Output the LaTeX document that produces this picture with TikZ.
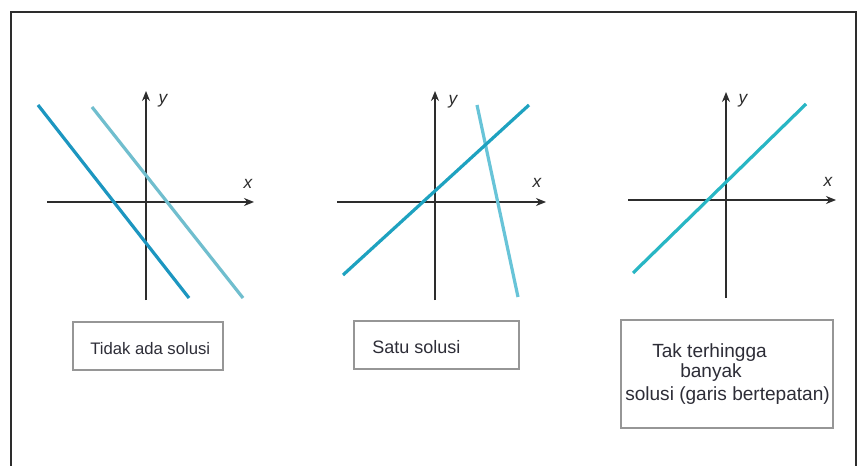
\documentclass[tikz,border=0pt]{standalone}
\usepackage{fontspec}
\setmainfont{Liberation Sans}
\usetikzlibrary{arrows.meta}
\definecolor{darkA}{RGB}{28,150,192}
\definecolor{lightA}{RGB}{112,190,206}
\definecolor{mainB}{RGB}{30,162,192}
\definecolor{lightB}{RGB}{104,196,216}
\definecolor{mainC}{RGB}{40,182,196}
\definecolor{axisgray}{RGB}{45,45,45}
\definecolor{boxgray}{RGB}{150,150,150}
\definecolor{textgray}{RGB}{45,45,55}
\tikzset{
  axisline/.style={draw=axisgray, line width=1.1pt, -{Stealth[length=7.5pt,width=6pt]}},
  solline/.style={line width=2.4pt},
  axlabel/.style={font=\itshape\fontsize{13}{13}\selectfont, text=axisgray, inner sep=0pt},
  labelbox/.style={draw=boxgray, line width=1.1pt, inner sep=0pt},
  boxtext/.style={font=\fontsize{12.5}{14}\selectfont, text=textgray, inner sep=0pt, anchor=west},
  boxtextM/.style={font=\fontsize{13.5}{15}\selectfont, text=textgray, inner sep=0pt, anchor=west},
  boxtextB/.style={font=\fontsize{14.3}{16}\selectfont, text=textgray, inner sep=0pt, anchor=west}
}
\begin{document}
\begin{tikzpicture}[x=0.75pt,y=-0.75pt]
\useasboundingbox (0,0) rectangle (866,466);
\fill[white] (0,0) rectangle (866,466);
% outer frame
\draw[axisgray, line width=1.3pt] (11,480) -- (11,12) -- (856,12) -- (856,480);

% ---------- Panel 1 ----------
\coordinate (a1s) at (146,300); \coordinate (a1n) at (146,91);
\coordinate (a1w) at (47,202);  \coordinate (a1e) at (254,202);
\draw[axisline] (a1s) -- (a1n);
\draw[axisline] (a1w) -- (a1e);
\node[axlabel] (y1) at (163,101) {y};
\node[axlabel] (x1) at (248,184) {x};
\coordinate (l1a) at (38,105); \coordinate (l1b) at (189,298);
\coordinate (l2a) at (92,107); \coordinate (l2b) at (243,298);
\draw[solline, darkA] (l1a) -- (l1b);
\draw[solline, lightA] (l2a) -- (l2b);

% ---------- Panel 2 ----------
\coordinate (a2s) at (435,300); \coordinate (a2n) at (435,91);
\coordinate (a2w) at (337,202); \coordinate (a2e) at (546,202);
\draw[axisline] (a2s) -- (a2n);
\draw[axisline] (a2w) -- (a2e);
\node[axlabel] (y2) at (453,102) {y};
\node[axlabel] (x2) at (537,183) {x};
\coordinate (m2a) at (343,275); \coordinate (m2b) at (529,105);
\coordinate (n2a) at (477,105); \coordinate (n2b) at (518,297);
\draw[solline, lightB] (n2a) -- (n2b);
\draw[solline, mainB] (m2a) -- (m2b);

% ---------- Panel 3 ----------
\coordinate (a3s) at (726,298); \coordinate (a3n) at (726,92);
\coordinate (a3w) at (628,200); \coordinate (a3e) at (836,200);
\draw[axisline] (a3s) -- (a3n);
\draw[axisline] (a3w) -- (a3e);
\node[axlabel] (y3) at (743,101) {y};
\node[axlabel] (x3) at (828,182) {x};
\coordinate (m3a) at (633,273); \coordinate (m3b) at (806,104);
\draw[solline, mainC] (m3a) -- (m3b);

% ---------- Boxes ----------
\node[labelbox, minimum width=112.5pt, minimum height=36pt] (box1) at (148,346) {};
\node[boxtext] (t1) at (90,349) {Tidak ada solusi};

\node[labelbox, minimum width=123.75pt, minimum height=36pt] (box2) at (436.5,345) {};
\node[boxtextM] (t2) at (372,347) {Satu solusi};

\node[labelbox, minimum width=159pt, minimum height=81pt] (box3) at (727,374) {};
\node[boxtextB] (t3a) at (652,353) {Tak terhingga};
\node[boxtextB] (t3b) at (680,373) {banyak};
\node[boxtextB] (t3c) at (625,396) {solusi (garis bertepatan)};
\end{tikzpicture}
\end{document}
